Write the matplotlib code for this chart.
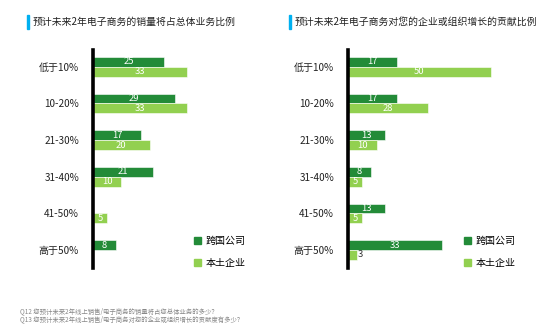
import matplotlib
matplotlib.use("Agg")
import matplotlib.pyplot as plt
from matplotlib.patches import Patch

plt.rcParams['font.family'] = ['Noto Sans CJK SC', 'DejaVu Sans']

# data
categories = ["低于10%", "10-20%", "21-30%", "31-40%", "41-50%", "高于50%"]
left_mnc = [25, 29, 17, 21, 0, 8]
left_local = [33, 33, 20, 10, 5, 0]
right_mnc = [17, 17, 13, 8, 13, 33]
right_local = [50, 28, 10, 5, 5, 3]
series_names = ["跨国公司", "本土企业"]
titles = ["预计未来2年电子商务的销量将占总体业务比例",
          "预计未来2年电子商务对您的企业或组织增长的贡献比例"]
notes = ["Q12 您预计未来2年线上销售/电子商务的销量将占您总体业务的多少？",
         "Q13 您预计未来2年线上销售/电子商务对您的企业或组织增长的贡献度有多少？"]

dark = "#238B38"
light = "#92D050"

W, H = 558, 329
fig = plt.figure(figsize=(W / 100, H / 100), dpi=100)


def px_axes(x0, y0, x1, y1):
    return fig.add_axes([x0 / W, 1 - y1 / H, (x1 - x0) / W, (y1 - y0) / H])


def draw(ax, mnc, local, xmax):
    y = list(range(len(categories)))
    h = 0.27
    b1 = ax.barh([v - h / 2 for v in y], mnc, height=h, color=dark,
                 edgecolor="white", linewidth=0.4)
    b2 = ax.barh([v + h / 2 for v in y], local, height=h, color=light,
                 edgecolor="white", linewidth=0.4)
    for bars, vals in ((b1, mnc), (b2, local)):
        for bar, v in zip(bars, vals):
            if v == 0:
                continue
            cy = bar.get_y() + bar.get_height() / 2
            if v < 4:
                ax.text(v + 0.3, cy, str(v), ha="left", va="center",
                        fontsize=6.8, color="#333333")
            else:
                ax.text(v / 2, cy, str(v), ha="center", va="center",
                        fontsize=6.8, color="white")
    ax.set_xlim(0, xmax)
    ax.set_ylim(5.49, -0.46)
    ax.set_yticks(y)
    ax.set_yticklabels(categories, fontsize=7.2, color="#222222")
    ax.tick_params(axis="y", length=0, pad=10)
    ax.set_xticks([])
    for s in ("top", "right", "bottom"):
        ax.spines[s].set_visible(False)
    ax.spines["left"].set_linewidth(2.6)
    ax.spines["left"].set_color("black")


ax1 = px_axes(93, 50, 260, 268)
draw(ax1, left_mnc, left_local, (260 - 93) / 2.84)
ax2 = px_axes(348, 50, 545, 268)
draw(ax2, right_mnc, right_local, (545 - 348) / 2.86)

handles = [Patch(color=dark, label=series_names[0]),
           Patch(color=light, label=series_names[1])]
for lx in (185, 455):
    fig.legend(handles=handles, loc="center left",
               bbox_to_anchor=(lx / W, 1 - 252 / H), frameon=False,
               fontsize=7.2, handlelength=0.7, handleheight=0.7,
               handletextpad=0.5, labelspacing=1.2)

# titles with blue marker
for tx, t in zip((27, 289), titles):
    fig.patches.append(plt.Rectangle((tx / W, 1 - 29 / H), 2 / W, 14 / H,
                                     transform=fig.transFigure,
                                     color="#00B0F0"))
    fig.text((tx + 6) / W, 1 - 22 / H, t, fontsize=7.1, color="#222222",
             va="center", ha="left")

fig.text(20 / W, 1 - 311.5 / H, notes[0], fontsize=4.6, color="#888888", va="center")
fig.text(20 / W, 1 - 319.5 / H, notes[1], fontsize=4.6, color="#888888", va="center")

fig.savefig("out.png", dpi=100)
